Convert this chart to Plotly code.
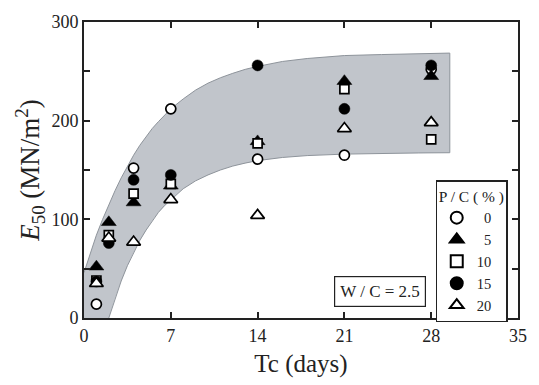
import plotly.graph_objects as go

# ---- data ----
tc_all = [1, 2, 4, 7, 14, 21, 28]
pc0_t = [1, 4, 7, 14, 21, 28]
pc0_v = [14, 152, 212, 161, 165, 252]
pc5_v = [52, 97, 117, 134, 179, 240, 245]
pc10_v = [38, 84, 126, 136, 177, 232, 181]
pc15_v = [37, 76, 140, 145, 256, 212, 256]
pc20_v = [35, 81, 77, 120, 104, 192, 198]

# shaded envelope (edges)
band_up_t = [0, 0.5, 1, 1.5, 2, 2.5, 3, 3.5, 4, 4.5, 5, 5.5, 6, 6.5, 7, 8, 9, 10, 11, 12, 13, 14,
             16, 18, 21, 24, 27, 29.5]
band_up_v = [46, 66, 84, 100, 115, 129, 142, 154, 165, 175, 184, 192, 199, 206, 212, 222, 231, 238,
             243.5, 248, 252, 255, 260, 263, 266, 267, 268, 268.5]
band_lo_t = [0, 2, 2.5, 3, 3.5, 4, 4.5, 5, 5.5, 6, 6.5, 7, 8, 9, 10, 11, 12, 13, 14,
             16, 18, 21, 24, 27, 29.5]
band_lo_v = [0, 0, 20, 37.5, 53, 66.5, 78.6, 89, 98.5, 107, 114, 120, 131, 139, 145, 150, 154, 157,
             159.5, 162.7, 164.6, 166.1, 167, 167.3, 167.5]

FONT = "Liberation Serif"
INK = "#222"
BAND = "#c1c5cb"
EDGE = "#8e949b"

fig = go.Figure()

# envelope fill: upper curve left->right, then lower curve right->left
bx = band_up_t + band_lo_t[::-1]
by = band_up_v + band_lo_v[::-1]
fig.add_trace(go.Scatter(x=bx, y=by, mode="lines", fill="toself", fillcolor=BAND,
                         line=dict(color=BAND, width=0), showlegend=False, hoverinfo="skip"))
# envelope edges
fig.add_trace(go.Scatter(x=band_up_t, y=band_up_v, mode="lines", line=dict(color=EDGE, width=1),
                         showlegend=False, hoverinfo="skip"))
fig.add_trace(go.Scatter(x=band_lo_t[1:], y=band_lo_v[1:], mode="lines", line=dict(color=EDGE, width=1),
                         showlegend=False, hoverinfo="skip"))
fig.add_trace(go.Scatter(x=[band_up_t[-1], band_lo_t[-1]], y=[band_up_v[-1], band_lo_v[-1]], mode="lines",
                         line=dict(color=EDGE, width=1), showlegend=False, hoverinfo="skip"))

mk_line = dict(color="black", width=1.7)
fig.add_trace(go.Scatter(x=pc0_t, y=pc0_v, mode="markers", name="\u00a0\u00a00",
                         marker=dict(symbol="circle", size=10, color="white", line=mk_line)))
fig.add_trace(go.Scatter(x=tc_all, y=pc5_v, mode="markers", name="\u00a0\u00a05",
                         marker=dict(symbol="triangle-up", size=13, color="black", line=dict(color="black", width=0.5))))
fig.add_trace(go.Scatter(x=tc_all, y=pc10_v, mode="markers", name="10",
                         marker=dict(symbol="square", size=9, color="white", line=mk_line)))
fig.add_trace(go.Scatter(x=tc_all, y=pc15_v, mode="markers", name="15",
                         marker=dict(symbol="circle", size=11, color="black", line=dict(color="black", width=0.5))))
fig.add_trace(go.Scatter(x=tc_all, y=pc20_v, mode="markers", name="20",
                         marker=dict(symbol="triangle-up", size=12, color="white", line=mk_line)))

fig.add_annotation(x=23.85, y=27, xref="x", yref="y", text="W / C = 2.5", showarrow=False,
                   font=dict(family=FONT, size=17, color=INK),
                   bordercolor=INK, borderwidth=1.2, borderpad=5, bgcolor="white")

axis_common = dict(showline=True, linecolor=INK, linewidth=2, mirror="ticks",
                   ticks="inside", ticklen=6, tickwidth=1.5, tickcolor=INK,
                   showgrid=False, zeroline=False,
                   tickfont=dict(family=FONT, size=18, color=INK))

fig.update_xaxes(range=[0, 35], tickvals=[0, 7, 14, 21, 28, 35],
                 title=dict(text="Tc (days)", font=dict(family=FONT, size=25, color=INK), standoff=10),
                 **axis_common)
fig.update_yaxes(range=[0, 300], tickvals=[0, 100, 200, 300],
                 minor=dict(tickvals=[50, 150, 250], ticks="inside", ticklen=6, tickwidth=1.5, tickcolor=INK),
                 title=dict(text="<i>E</i><sub>50</sub> (MN/m<sup>2</sup>)",
                            font=dict(family=FONT, size=27, color=INK), standoff=4),
                 **axis_common)

fig.update_layout(
    width=539, height=385,
    margin=dict(l=84, r=12, t=17, b=63),
    paper_bgcolor="white", plot_bgcolor="white",
    legend=dict(x=0.81, y=0.465, xanchor="left", yanchor="top",
                bordercolor=INK, borderwidth=1.2, bgcolor="white",
                title=dict(text="P / C ( % )", side="top", font=dict(family=FONT, size=15.5, color=INK)),
                font=dict(family=FONT, size=14.5, color=INK),
                tracegroupgap=0, itemwidth=30, itemsizing="constant"),
    showlegend=True,
)

fig.write_html("out.html")
